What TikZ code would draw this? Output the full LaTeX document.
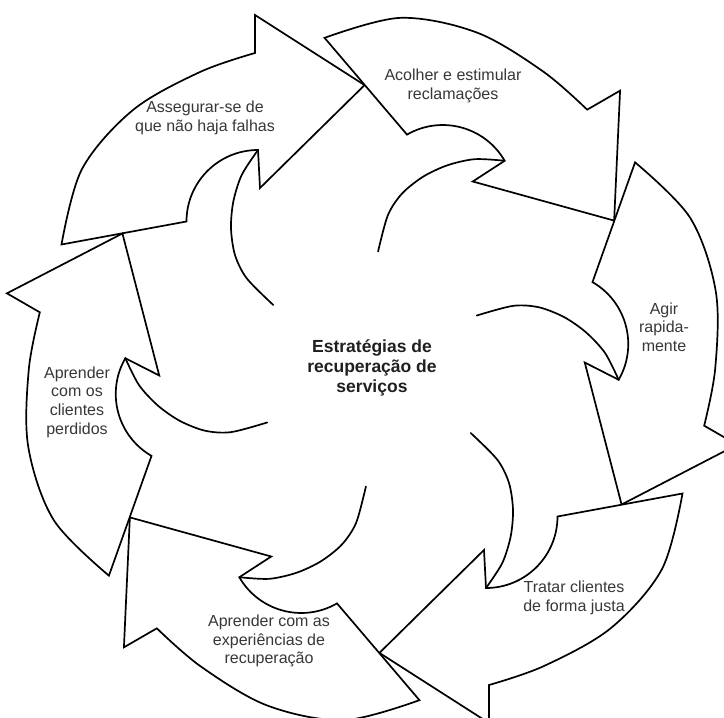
\documentclass[tikz,border=0pt]{standalone}
\usepackage{fontspec}
\setmainfont{Liberation Sans}
\begin{document}
\begin{tikzpicture}[x=1pt,y=1pt]
\tikzset{
  blade/.style={draw=black, line width=1.7pt, fill=white, line join=miter},
  swirl/.style={draw=black, line width=1.7pt, line cap=round},
  bladetext/.style={align=center, text=black!78, inner sep=0pt,
    font=\fontsize{16}{18.6}\selectfont},
  hubtext/.style={align=center, text=black!88, inner sep=0pt,
    font=\fontsize{17.5}{20}\selectfont\bfseries},
}
\useasboundingbox (0,0) rectangle (724,-718);
\fill[white] (0,0) rectangle (724,-718);
\clip (0,0) rectangle (724,-718);

% six curved arrows around the hub, each one turned by 60 degrees
\foreach \k in {0,...,5} {
  \begin{scope}[shift={(372,-369)}, rotate=-60*\k]
    \draw[blade] (-185.5,147.5) -- (-310.5,124.5)
      -- plot[smooth, tension=0.55] coordinates
         {(-310.5,124.5) (-290,200) (-239,259) (-172,297) (-117,316)}
      -- (-117,354) -- (91.5:284) -- (-112,181) -- (-114,219)
      arc[start angle=90, end angle=180, radius=71.5pt] -- cycle;
    \draw[swirl] plot[smooth] coordinates
      {(-114,219) (-130.3,194) (-138.7,167.3) (-141,140.7)
       (-137,114) (-125.3,90.7) (-98.7,64)};
  \end{scope}
}

\node[bladetext] (t1) at (205,-118) {Assegurar-se de\\que não haja falhas};
\node[bladetext] (t2) at (453,-86) {Acolher e estimular\\reclamações};
\node[bladetext] (t3) at (664,-327) {Agir\\rapida-\\mente};
\node[bladetext] (t4) at (574,-598) {Tratar clientes\\de forma justa};
\node[bladetext] (t5) at (269,-641) {Aprender com as\\experiências de\\recuperação};
\node[bladetext] (t6) at (77,-402) {Aprender\\com os\\clientes\\perdidos};
\node[hubtext] (hub) at (372,-368) {Estratégias de\\recuperação de\\serviços};
\end{tikzpicture}
\end{document}
